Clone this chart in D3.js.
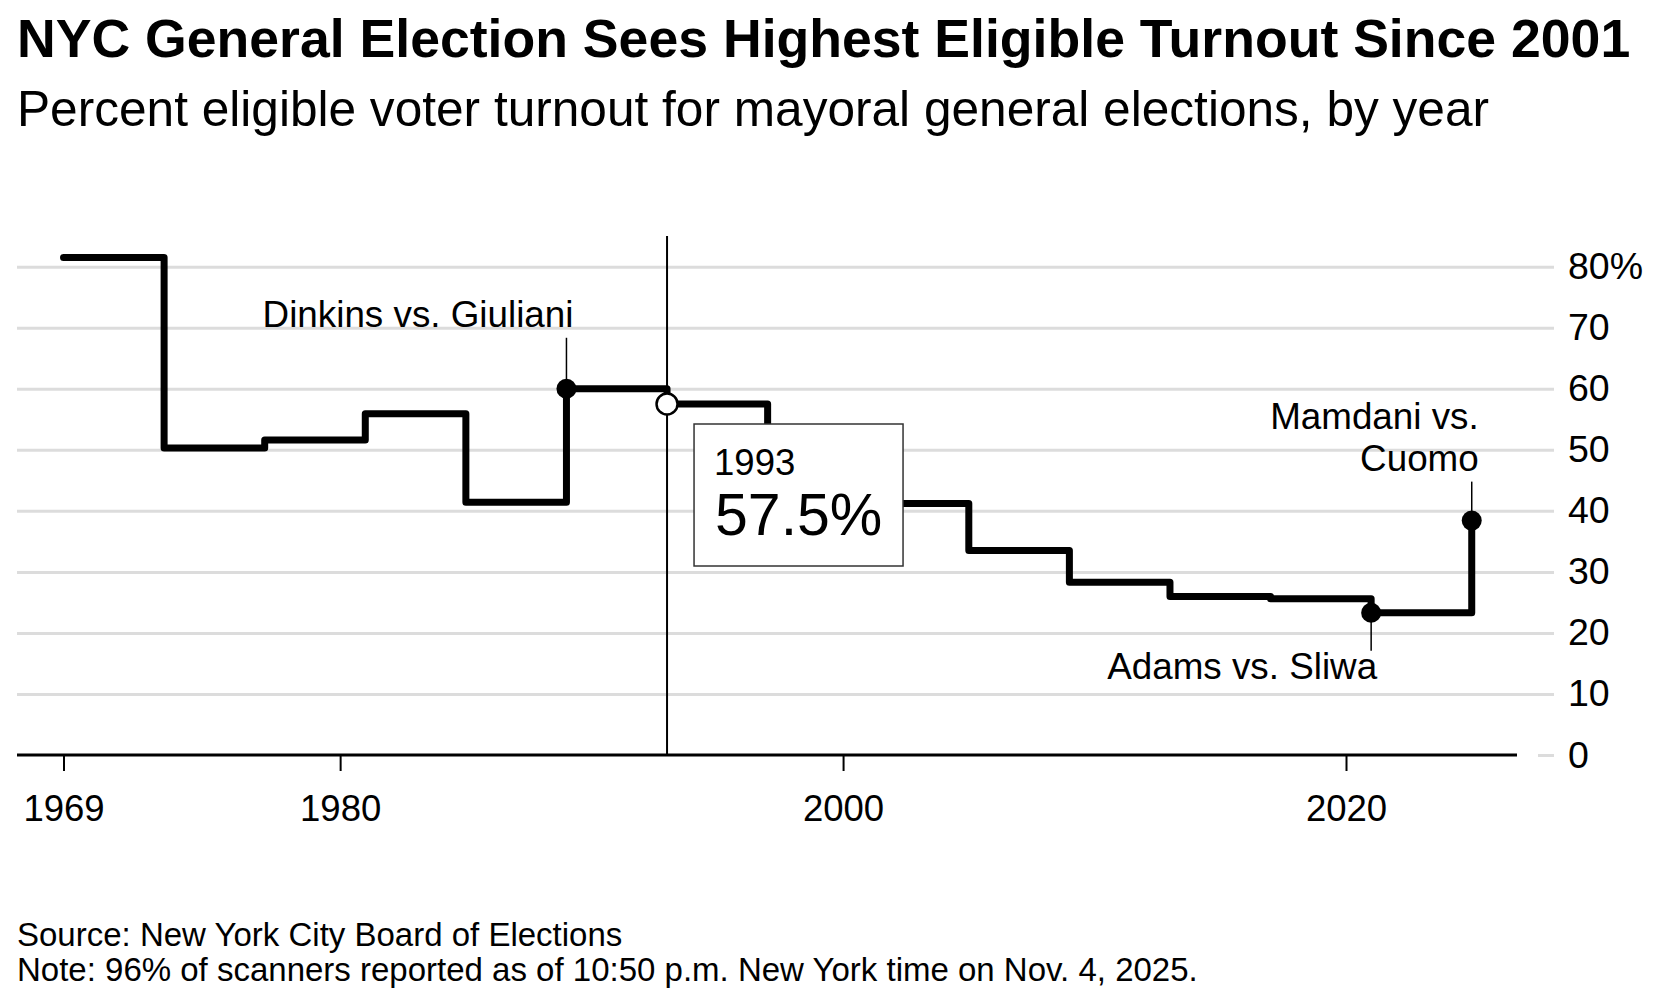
<!DOCTYPE html>
<html>
<head>
<meta charset="utf-8">
<script src="https://cdn.jsdelivr.net/npm/d3@7"></script>
<style>
  body { margin: 0; background: #fff; }
  text { font-family: "Liberation Sans", Arial, Helvetica, sans-serif; fill: #000; }
</style>
</head>
<body>
<div id="chart"></div>
<script>
// election years and eligible turnout (%)
const years = [1969, 1973, 1977, 1981, 1985, 1989, 1993, 1997, 2001, 2005, 2009, 2013, 2017, 2021, 2025];
const turnout = [81.5, 50.3, 51.6, 55.9, 41.4, 60.0, 57.5, 38.2, 41.2, 33.5, 28.3, 25.95, 25.6, 23.3, 38.4];

const xTicks = [1969, 1980, 2000, 2020];
const yTicks = [0, 10, 20, 30, 40, 50, 60, 70, 80];

// labelled races
const callouts = [
    { year: 1989, lines: ['Dinkins vs. Giuliani'], side: 'top' },
    { year: 2021, lines: ['Adams vs. Sliwa'], side: 'bottom' },
    { year: 2025, lines: ['Mamdani vs.', 'Cuomo'], side: 'top' }
];
const hoverYear = 1993;

// leader length / label offset per callout (px)
const leader = { 1989: [51, 62], 2021: [38, 66], 2025: [39, 50] };

const data = years.map((y, i) => [y, turnout[i]]);

const width = 1654;
const height = 994;

const svg = d3.select('#chart')
    .append('svg')
    .attr('width', width)
    .attr('height', height);

const xScale = d3.scaleLinear().domain([1967.15, 2026.8]).range([17, 1517]);
const yScale = d3.scaleLinear().domain([0, 80]).range([755, 266.7]);

// title + subtitle
svg.append('text')
    .attr('x', 17)
    .attr('y', 57)
    .style('font-size', '53.6px')
    .style('font-weight', 'bold')
    .text('NYC General Election Sees Highest Eligible Turnout Since 2001');

svg.append('text')
    .attr('x', 17)
    .attr('y', 126)
    .style('font-size', '49.6px')
    .text('Percent eligible voter turnout for mayoral general elections, by year');

// gridlines + right labels
const gridRight = 1554;
const yAxis = svg.append('g')
    .attr('transform', 'translate(' + gridRight + ',0)')
    .call(d3.axisRight(yScale)
        .tickValues(yTicks)
        .tickSize(-(gridRight - 17))
        .tickPadding(14)
        .tickFormat(d => d === 80 ? d + '%' : d));

yAxis.select('.domain').remove();
yAxis.selectAll('.tick line')
    .attr('stroke', '#dcdcdc')
    .attr('stroke-width', 3)
    .filter(d => d === 0)
    .attr('x2', -16);
yAxis.selectAll('.tick text')
    .style('font-size', '37.5px')
    .attr('fill', '#000');

// x axis
const xAxis = svg.append('g')
    .attr('transform', 'translate(0,' + yScale(0) + ')')
    .call(d3.axisBottom(xScale)
        .tickValues(xTicks)
        .tickSize(16)
        .tickFormat(d3.format('d')));

xAxis.select('.domain')
    .attr('stroke', '#000')
    .attr('stroke-width', 3)
    .attr('d', 'M' + xScale.range()[0] + ',0H' + xScale.range()[1]);
xAxis.selectAll('.tick line')
    .attr('stroke', '#000')
    .attr('stroke-width', 2);
xAxis.selectAll('.tick text')
    .attr('y', 66)
    .attr('dy', null)
    .style('font-size', '36.5px')
    .attr('fill', '#000');

// crosshair
svg.append('line')
    .attr('x1', xScale(hoverYear))
    .attr('x2', xScale(hoverYear))
    .attr('y1', 236)
    .attr('y2', yScale(0))
    .attr('stroke', '#000')
    .attr('stroke-width', 2);

// step line
const line = d3.line()
    .x(d => xScale(d[0]))
    .y(d => yScale(d[1]))
    .curve(d3.curveStepAfter);

svg.append('path')
    .datum(data)
    .attr('d', line)
    .attr('fill', 'none')
    .attr('stroke', '#000')
    .attr('stroke-width', 7)
    .attr('stroke-linejoin', 'round')
    .attr('stroke-linecap', 'round');

// callouts
callouts.forEach(c => {
    const v = turnout[years.indexOf(c.year)];
    const cx = xScale(c.year);
    const cy = yScale(v);
    const [len, off] = leader[c.year];
    const g = svg.append('g');

    if (c.side === 'top') {
        g.append('line')
            .attr('x1', cx).attr('x2', cx)
            .attr('y1', cy - len).attr('y2', cy)
            .attr('stroke', '#000')
            .attr('stroke-width', 1.5);
        const last = c.lines.length - 1;
        c.lines.forEach((t, i) => {
            g.append('text')
                .attr('x', cx + 7)
                .attr('y', cy - off - (last - i) * 42)
                .attr('text-anchor', 'end')
                .style('font-size', '36.8px')
                .text(t);
        });
    } else {
        g.append('line')
            .attr('x1', cx).attr('x2', cx)
            .attr('y1', cy).attr('y2', cy + len)
            .attr('stroke', '#000')
            .attr('stroke-width', 1.5);
        g.append('text')
            .attr('x', cx + 6)
            .attr('y', cy + off)
            .attr('text-anchor', 'end')
            .style('font-size', '36.8px')
            .text(c.lines[0]);
    }

    g.append('circle')
        .attr('cx', cx)
        .attr('cy', cy)
        .attr('r', 10)
        .attr('fill', '#000');
});

// hover point + tooltip
const hv = turnout[years.indexOf(hoverYear)];
svg.append('circle')
    .attr('cx', xScale(hoverYear))
    .attr('cy', yScale(hv))
    .attr('r', 10.5)
    .attr('fill', '#fff')
    .attr('stroke', '#000')
    .attr('stroke-width', 2.5);

const tip = svg.append('g')
    .attr('transform', 'translate(' + (xScale(hoverYear) + 27) + ',424)');

tip.append('rect')
    .attr('width', 209)
    .attr('height', 142)
    .attr('fill', '#fff')
    .attr('stroke', '#333')
    .attr('stroke-width', 1.5);

tip.append('text')
    .attr('x', 20)
    .attr('y', 51)
    .style('font-size', '36.5px')
    .text(hoverYear);

tip.append('text')
    .attr('x', 21)
    .attr('y', 111)
    .style('font-size', '59px')
    .text(hv.toFixed(1) + '%');

// footnotes
svg.append('text')
    .attr('x', 17)
    .attr('y', 946)
    .style('font-size', '33px')
    .text('Source: New York City Board of Elections');

svg.append('text')
    .attr('x', 17)
    .attr('y', 981)
    .style('font-size', '33px')
    .text('Note: 96% of scanners reported as of 10:50 p.m. New York time on Nov. 4, 2025.');
</script>
</body>
</html>
